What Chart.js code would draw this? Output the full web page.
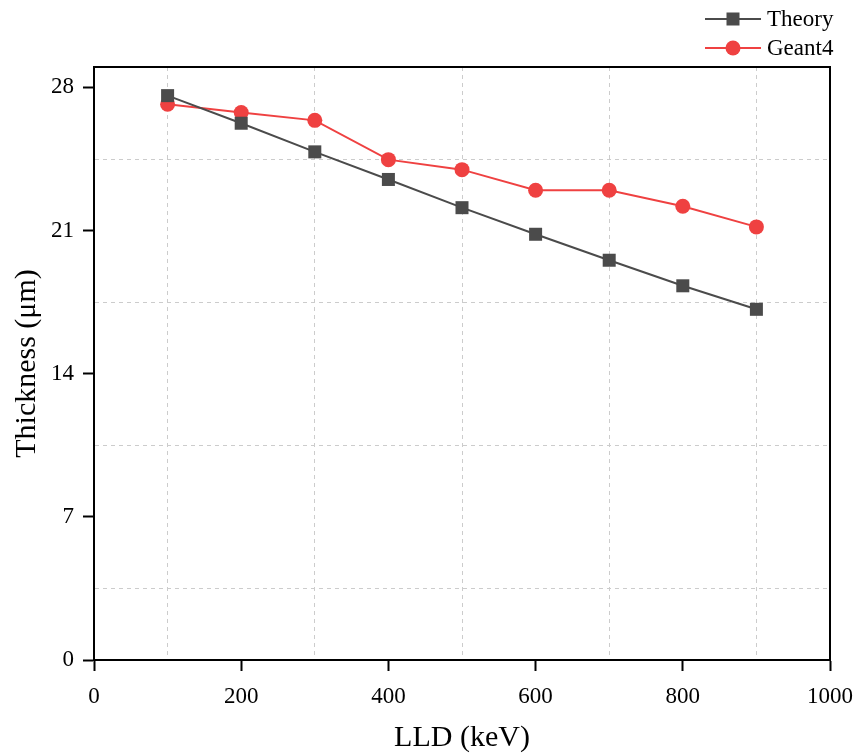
<!DOCTYPE html>
<html>
<head>
<meta charset="utf-8">
<script src="https://cdn.jsdelivr.net/npm/chart.js@4.4.1/dist/chart.umd.min.js"></script>
<style>
  html, body { margin: 0; padding: 0; background: #fff; }
  #wrap { width: 859px; height: 756px; }
</style>
</head>
<body>
<div id="wrap"><canvas id="thick"></canvas></div>
<script>
const lld = [100, 200, 300, 400, 500, 600, 700, 800, 900];
const theory = [27.6, 26.25, 24.85, 23.5, 22.12, 20.82, 19.55, 18.3, 17.15];
const geant4 = [27.18, 26.77, 26.39, 24.47, 23.98, 22.97, 22.97, 22.19, 21.18];
const yTicks = [0, 3.5, 7, 10.5, 14, 17.5, 21, 24.5, 28];

const FONT = '"Liberation Serif", "Times New Roman", serif';
const GRAY = "#4b4b4b";
const RED = "#ef4141";
const GRID = "#cccccc";

// frame on top/right + custom legend (line with marker)
const framePlugin = {
  id: "frame",
  afterDraw(chart) {
    const { ctx, chartArea: a } = chart;
    ctx.save();
    ctx.strokeStyle = "#000";
    ctx.lineWidth = 2;
    ctx.beginPath();
    ctx.moveTo(a.left, a.top);
    ctx.lineTo(a.right, a.top);
    ctx.lineTo(a.right, a.bottom);
    ctx.stroke();

    const rows = [19, 48];
    chart.data.datasets.forEach((ds, i) => {
      const y = rows[i];
      ctx.strokeStyle = ds.borderColor;
      ctx.lineWidth = 2;
      ctx.beginPath();
      ctx.moveTo(705, y);
      ctx.lineTo(761, y);
      ctx.stroke();
      ctx.fillStyle = ds.backgroundColor;
      if (ds.pointStyle === "rect") {
        ctx.fillRect(733 - 6.5, y - 6.5, 13, 13);
      } else {
        ctx.beginPath();
        ctx.arc(733, y, 7.5, 0, Math.PI * 2);
        ctx.fill();
      }
      ctx.fillStyle = "#000";
      ctx.font = "23px " + FONT;
      ctx.textAlign = "left";
      ctx.textBaseline = "middle";
      ctx.fillText(ds.label, 767, y + 1);
    });
    ctx.restore();
  }
};

const ctx = document.getElementById("thick").getContext("2d");
new Chart(ctx, {
  type: "line",
  data: {
    datasets: [
      {
        label: "Theory",
        data: lld.map((x, i) => ({ x, y: theory[i] })),
        borderColor: GRAY,
        backgroundColor: GRAY,
        borderWidth: 2,
        pointStyle: "rect",
        pointRadius: 9.2,
        pointBorderWidth: 0,
        tension: 0
      },
      {
        label: "Geant4",
        data: lld.map((x, i) => ({ x, y: geant4[i] })),
        borderColor: RED,
        backgroundColor: RED,
        borderWidth: 2,
        pointStyle: "circle",
        pointRadius: 7.5,
        pointBorderWidth: 0,
        tension: 0
      }
    ]
  },
  options: {
    responsive: true,
    maintainAspectRatio: false,
    animation: false,
    layout: { padding: { left: 0, top: 67, right: 29, bottom: 0 } },
    plugins: {
      legend: { display: false },
      tooltip: { enabled: false }
    },
    scales: {
      x: {
        type: "linear",
        min: 0,
        max: 1000,
        afterFit: s => {
          s.height = 96;
          s.paddingLeft = 0;
          s.paddingRight = 0;
        },
        ticks: {
          stepSize: 100,
          autoSkip: false,
          maxRotation: 0,
          padding: 12,
          color: "#000",
          font: { family: FONT, size: 23 },
          callback: v => (v % 200 === 0 ? v : "")
        },
        grid: {
          color: c => (c.tick && c.tick.value % 200 !== 0 ? GRID : "transparent"),
          tickColor: c => (c.tick && c.tick.value % 200 === 0 ? "#000" : "transparent"),
          tickLength: 11,
          tickWidth: 2,
          lineWidth: 1
        },
        border: { color: "#000", width: 2, dash: [4, 4] },
        title: {
          display: true,
          text: "LLD (keV)",
          color: "#000",
          font: { family: FONT, size: 30, lineHeight: 1 },
          padding: { top: 0, bottom: 3 }
        }
      },
      y: {
        min: 0,
        max: 29,
        afterFit: s => {
          s.width = 94;
          s.paddingTop = 0;
          s.paddingBottom = 0;
        },
        afterBuildTicks: s => { s.ticks = yTicks.map(v => ({ value: v })); },
        ticks: {
          autoSkip: false,
          padding: 9,
          color: "#000",
          font: { family: FONT, size: 23 },
          callback: v => (v % 7 === 0 ? v : "")
        },
        grid: {
          color: c => (c.tick && c.tick.value % 7 !== 0 ? GRID : "transparent"),
          tickColor: c => (c.tick && c.tick.value % 7 === 0 ? "#000" : "transparent"),
          tickLength: 11,
          tickWidth: 2,
          lineWidth: 1
        },
        border: { color: "#000", width: 2, dash: [4, 4] },
        title: {
          display: true,
          text: "Thickness (μm)",
          color: "#000",
          font: { family: FONT, size: 30, lineHeight: 1 },
          padding: { top: 12, bottom: 0 }
        }
      }
    }
  },
  plugins: [framePlugin]
});
</script>
</body>
</html>
